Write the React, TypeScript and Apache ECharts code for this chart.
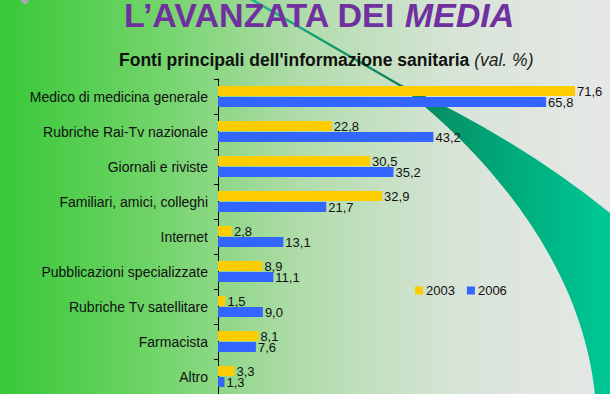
import React, { useEffect, useRef } from "react";
import * as echarts from "echarts";

const categories = [
  "Medico di medicina generale",
  "Rubriche Rai-Tv nazionale",
  "Giornali e riviste",
  "Familiari, amici, colleghi",
  "Internet",
  "Pubblicazioni specializzate",
  "Rubriche Tv satellitare",
  "Farmacista",
  "Altro",
];
const values2003 = [71.6, 22.8, 30.5, 32.9, 2.8, 8.9, 1.5, 8.1, 3.3];
const values2006 = [65.8, 43.2, 35.2, 21.7, 13.1, 11.1, 9.0, 7.6, 1.3];
const seriesNames = ["2003", "2006"];

const FONT = "'Liberation Sans', Arial, sans-serif";

const SWOOSH_D =
  "M 250 0 L 255 0 L 400 84 Q 520 140 610 213 L 610 394 L 595 394 C 580 250 470 140 399 86 Z";

let registered = false;
function ensureShape() {
  if (registered) return;
  echarts.graphic.registerShape("swoosh", echarts.graphic.extendPath(SWOOSH_D, {}) as any);
  registered = true;
}

export default function App() {
  const ref = useRef<HTMLDivElement>(null);

  useEffect(() => {
    if (!ref.current) return;
    ensureShape();
    const chart = echarts.init(ref.current, undefined, { renderer: "svg" });
    const fmt = (p: any) => Number(p.value).toFixed(1).replace(".", ",");
    const titleRich = {
      fontFamily: FONT,
      fontSize: 34,
      fontWeight: "bold",
      color: "#7030a0",
      lineHeight: 28,
      textShadowColor: "#2a0a3a",
      textShadowOffsetX: 2,
      textShadowOffsetY: 2,
      textShadowBlur: 0,
    };
    chart.setOption({
      animation: false,
      backgroundColor: new echarts.graphic.LinearGradient(0, 0, 1, 0, [
        { offset: 0, color: "#38c838" },
        { offset: 0.25, color: "#70d468" },
        { offset: 0.5, color: "#b2dcac" },
        { offset: 0.75, color: "#d8e4d8" },
        { offset: 1, color: "#e6e8e6" },
      ]),
      graphic: [
        {
          type: "swoosh",
          x: 0,
          y: 0,
          z: 0,
          silent: true,
          style: {
            fill: new echarts.graphic.LinearGradient(0, 0, 1, 0, [
              { offset: 0, color: "#20b890" },
              { offset: 0.4, color: "#0a8058" },
              { offset: 0.7, color: "#00a878" },
              { offset: 1, color: "#00c896" },
            ]),
          },
        },
        {
          type: "circle",
          z: 0,
          silent: true,
          shape: { cx: 25, cy: 0, r: 4 },
          style: { fill: "#a8a8b0" },
        },
      ],
      title: [
        {
          text: "{a|L\u2019AVANZATA DEI }{b|MEDIA}",
          left: 124,
          top: 1,
          padding: 0,
          textStyle: {
            rich: {
              a: { ...titleRich },
              b: { ...titleRich, fontStyle: "italic" },
            },
          },
        },
        {
          text: "{a|Fonti principali dell'informazione sanitaria }{b|(val. %)}",
          left: 119,
          top: 50,
          padding: 0,
          textStyle: {
            rich: {
              a: { fontFamily: FONT, fontSize: 17.5, fontWeight: "bold", color: "#111", lineHeight: 20 },
              b: { fontFamily: FONT, fontSize: 17.5, fontWeight: "normal", fontStyle: "italic", color: "#222", lineHeight: 20 },
            },
          },
        },
      ],
      legend: {
        data: seriesNames,
        left: 410,
        top: 279,
        icon: "rect",
        itemWidth: 8,
        itemHeight: 8,
        itemGap: 12,
        textStyle: { fontFamily: FONT, fontSize: 13, color: "#111", padding: [0, 0, 0, -2] },
      },
      grid: { left: 218, top: 79, width: 374, height: 318 },
      xAxis: {
        type: "value",
        min: 0,
        max: 75,
        show: false,
        splitLine: { show: false },
      },
      yAxis: {
        type: "category",
        data: categories,
        inverse: true,
        axisLine: { show: true, lineStyle: { color: "#000", width: 1 } },
        axisTick: { show: true, length: 4, lineStyle: { color: "#000" } },
        axisLabel: { fontFamily: FONT, fontSize: 14, color: "#111", margin: 10 },
      },
      series: [
        {
          name: seriesNames[0],
          type: "bar",
          data: values2003,
          barWidth: 10,
          barGap: "10%",
          itemStyle: { color: "#ffcc00" },
          label: {
            show: true,
            position: "right",
            distance: 2,
            formatter: fmt,
            fontFamily: FONT,
            fontSize: 13,
            color: "#111",
          },
        },
        {
          name: seriesNames[1],
          type: "bar",
          data: values2006,
          barWidth: 10,
          itemStyle: { color: "#3366ff" },
          label: {
            show: true,
            position: "right",
            distance: 2,
            formatter: fmt,
            fontFamily: FONT,
            fontSize: 13,
            color: "#111",
          },
        },
      ],
    });
    return () => chart.dispose();
  }, []);

  return (
    <div
      ref={ref}
      style={{ position: "fixed", left: 0, top: 0, width: 610, height: 394 }}
    />
  );
}
